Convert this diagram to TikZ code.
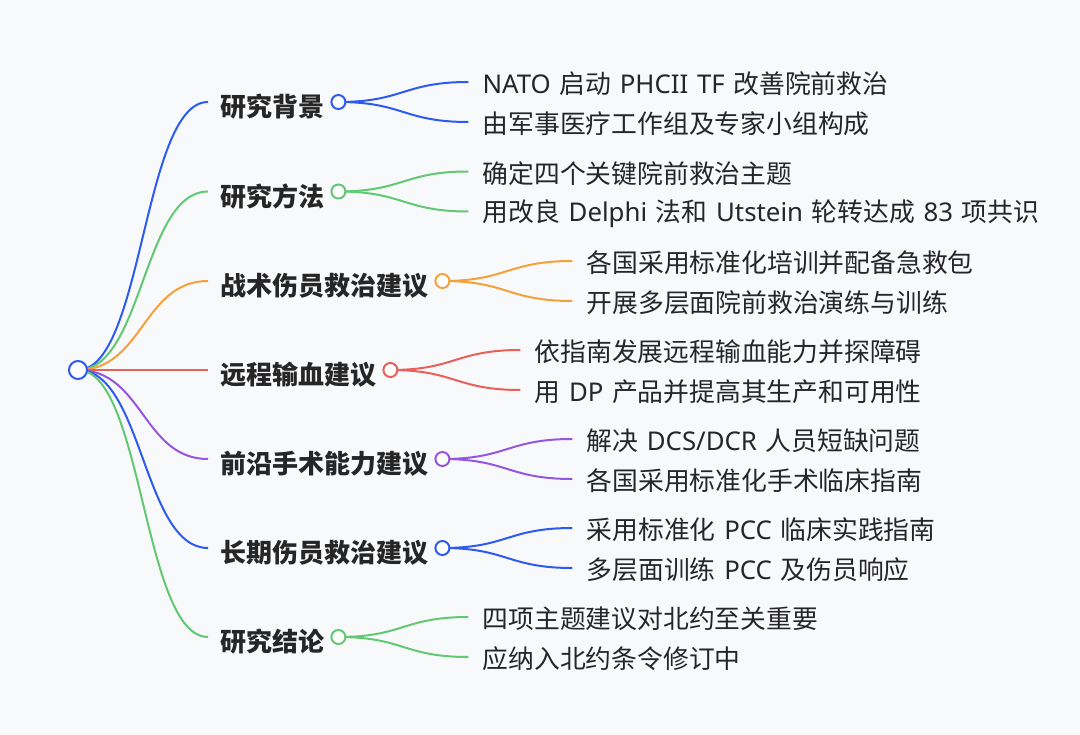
\documentclass[tikz,border=0pt]{standalone}
\usepackage{fontspec}
\setmainfont[WordSpace=1.5]{Noto Sans CJK SC}
\newfontfamily\latinfont[WordSpace=1.3]{Noto Sans}
\newcommand{\latn}[1]{{\latinfont #1}}
\usepackage{tikz}
\usetikzlibrary{calc}
\definecolor{mmbg}{HTML}{F8F9FB}
\definecolor{mmtext}{HTML}{262626}
\definecolor{mmblue}{HTML}{2D5BF2}
\definecolor{mmgreen}{HTML}{63C874}
\definecolor{mmorange}{HTML}{F4A13B}
\definecolor{mmred}{HTML}{E9605B}
\definecolor{mmpurple}{HTML}{9556E0}
\tikzstyle{bgshading}=[fill=mmbg]
\tikzstyle{branch}=[line width=2bp]
\tikzstyle{hub}=[circle, draw, line width=2bp, fill=white, inner sep=0pt, minimum size=14bp]
\tikzstyle{roothub}=[hub, minimum size=18bp]
\tikzstyle{topic}=[anchor=west, inner sep=0pt, text=mmtext, font=\bfseries\fontsize{26bp}{30bp}\selectfont]
\tikzstyle{leaf}=[anchor=west, inner sep=0pt, text=mmtext, font=\fontsize{25.8bp}{30bp}\selectfont]

\begin{document}
\begin{tikzpicture}[x=1bp, y=-1bp]
	\useasboundingbox (0,0) rectangle (1080,735);
	\fill[bgshading] (0,0) rectangle (1080,735);
	\coordinate (root) at (78,370);
%	first level topics
	\node[topic] (back) at (220,107) {研究背景};
	\node[topic] (meth) at (220,196.5) {研究方法};
	\node[topic] (tccc) at (220,286) {战术伤员救治建议};
	\node[topic] (rdcr) at (220,375) {远程输血建议};
	\node[topic] (fsur) at (220,464) {前沿手术能力建议};
	\node[topic] (pcc) at (220,553) {长期伤员救治建议};
	\node[topic] (concl) at (220,642) {研究结论};
	\coordinate (backe) at (208,102);
	\coordinate (methe) at (208,191.5);
	\coordinate (tccce) at (208,281);
	\coordinate (rdcre) at (208,370);
	\coordinate (fsure) at (208,459);
	\coordinate (pcce) at (208,548);
	\coordinate (concle) at (208,637);
	\path (back.east |- backe) ++(14,0) coordinate (backc);
	\path (meth.east |- methe) ++(14,0) coordinate (methc);
	\path (tccc.east |- tccce) ++(14,0) coordinate (tcccc);
	\path (rdcr.east |- rdcre) ++(14,0) coordinate (rdcrc);
	\path (fsur.east |- fsure) ++(14,0) coordinate (fsurc);
	\path (pcc.east |- pcce) ++(14,0) coordinate (pccc);
	\path (concl.east |- concle) ++(14,0) coordinate (conclc);
	\draw[branch, mmblue] (root) .. controls +(65,0) and +(-65,0) .. (backe);
	\draw[branch, mmgreen] (root) .. controls +(65,0) and +(-65,0) .. (methe);
	\draw[branch, mmorange] (root) .. controls +(65,0) and +(-65,0) .. (tccce);
	\draw[branch, mmred] (root) .. controls +(65,0) and +(-65,0) .. (rdcre);
	\draw[branch, mmpurple] (root) .. controls +(65,0) and +(-65,0) .. (fsure);
	\draw[branch, mmblue] (root) .. controls +(65,0) and +(-65,0) .. (pcce);
	\draw[branch, mmgreen] (root) .. controls +(65,0) and +(-65,0) .. (concle);
%	second level
	\coordinate (backa) at ($(backc)+(130,-20)$);
	\coordinate (backb) at ($(backc)+(130,20)$);
	\coordinate (metha) at ($(methc)+(130,-20)$);
	\coordinate (methb) at ($(methc)+(130,20)$);
	\coordinate (tccca) at ($(tcccc)+(130,-20)$);
	\coordinate (tcccb) at ($(tcccc)+(130,20)$);
	\coordinate (rdcra) at ($(rdcrc)+(130,-20)$);
	\coordinate (rdcrb) at ($(rdcrc)+(130,20)$);
	\coordinate (fsura) at ($(fsurc)+(130,-20)$);
	\coordinate (fsurb) at ($(fsurc)+(130,20)$);
	\coordinate (pcca) at ($(pccc)+(130,-20)$);
	\coordinate (pccb) at ($(pccc)+(130,20)$);
	\coordinate (concla) at ($(conclc)+(130,-20)$);
	\coordinate (conclb) at ($(conclc)+(130,20)$);
	\draw[branch, mmblue] (backc) .. controls +(65,0) and +(-65,0) .. (backa);
	\draw[branch, mmblue] (backc) .. controls +(65,0) and +(-65,0) .. (backb);
	\draw[branch, mmgreen] (methc) .. controls +(65,0) and +(-65,0) .. (metha);
	\draw[branch, mmgreen] (methc) .. controls +(65,0) and +(-65,0) .. (methb);
	\draw[branch, mmorange] (tcccc) .. controls +(65,0) and +(-65,0) .. (tccca);
	\draw[branch, mmorange] (tcccc) .. controls +(65,0) and +(-65,0) .. (tcccb);
	\draw[branch, mmred] (rdcrc) .. controls +(65,0) and +(-65,0) .. (rdcra);
	\draw[branch, mmred] (rdcrc) .. controls +(65,0) and +(-65,0) .. (rdcrb);
	\draw[branch, mmpurple] (fsurc) .. controls +(65,0) and +(-65,0) .. (fsura);
	\draw[branch, mmpurple] (fsurc) .. controls +(65,0) and +(-65,0) .. (fsurb);
	\draw[branch, mmblue] (pccc) .. controls +(65,0) and +(-65,0) .. (pcca);
	\draw[branch, mmblue] (pccc) .. controls +(65,0) and +(-65,0) .. (pccb);
	\draw[branch, mmgreen] (conclc) .. controls +(65,0) and +(-65,0) .. (concla);
	\draw[branch, mmgreen] (conclc) .. controls +(65,0) and +(-65,0) .. (conclb);
	\node[leaf] (backat) at ($(backa)+(14,2)$) {\latn{NATO} 启动 \latn{PHCII TF} 改善院前救治};
	\node[leaf] (backbt) at ($(backb)+(14,2)$) {由军事医疗工作组及专家小组构成};
	\node[leaf] (methat) at ($(metha)+(14,2)$) {确定四个关键院前救治主题};
	\node[leaf] (methbt) at ($(methb)+(14,2)$) {用改良 \latn{Delphi} 法和 \latn{Utstein} 轮转达成 \latn{83} 项共识};
	\node[leaf] (tcccat) at ($(tccca)+(14,2)$) {各国采用标准化培训并配备急救包};
	\node[leaf] (tcccbt) at ($(tcccb)+(14,2)$) {开展多层面院前救治演练与训练};
	\node[leaf] (rdcrat) at ($(rdcra)+(14,2)$) {依指南发展远程输血能力并探障碍};
	\node[leaf] (rdcrbt) at ($(rdcrb)+(14,2)$) {用 \latn{DP} 产品并提高其生产和可用性};
	\node[leaf] (fsurat) at ($(fsura)+(14,2)$) {解决 \latn{DCS/DCR} 人员短缺问题};
	\node[leaf] (fsurbt) at ($(fsurb)+(14,2)$) {各国采用标准化手术临床指南};
	\node[leaf] (pccat) at ($(pcca)+(14,2)$) {采用标准化 \latn{PCC} 临床实践指南};
	\node[leaf] (pccbt) at ($(pccb)+(14,2)$) {多层面训练 \latn{PCC} 及伤员响应};
	\node[leaf] (conclat) at ($(concla)+(14,2)$) {四项主题建议对北约至关重要};
	\node[leaf] (conclbt) at ($(conclb)+(14,2)$) {应纳入北约条令修订中};
%	hubs on top
	\node[roothub, draw=mmblue] (rootdot) at (root) {};
	\node[hub, draw=mmblue] (backdot) at (backc) {};
	\node[hub, draw=mmgreen] (methdot) at (methc) {};
	\node[hub, draw=mmorange] (tcccdot) at (tcccc) {};
	\node[hub, draw=mmred] (rdcrdot) at (rdcrc) {};
	\node[hub, draw=mmpurple] (fsurdot) at (fsurc) {};
	\node[hub, draw=mmblue] (pccdot) at (pccc) {};
	\node[hub, draw=mmgreen] (concldot) at (conclc) {};
\end{tikzpicture}
\end{document}
